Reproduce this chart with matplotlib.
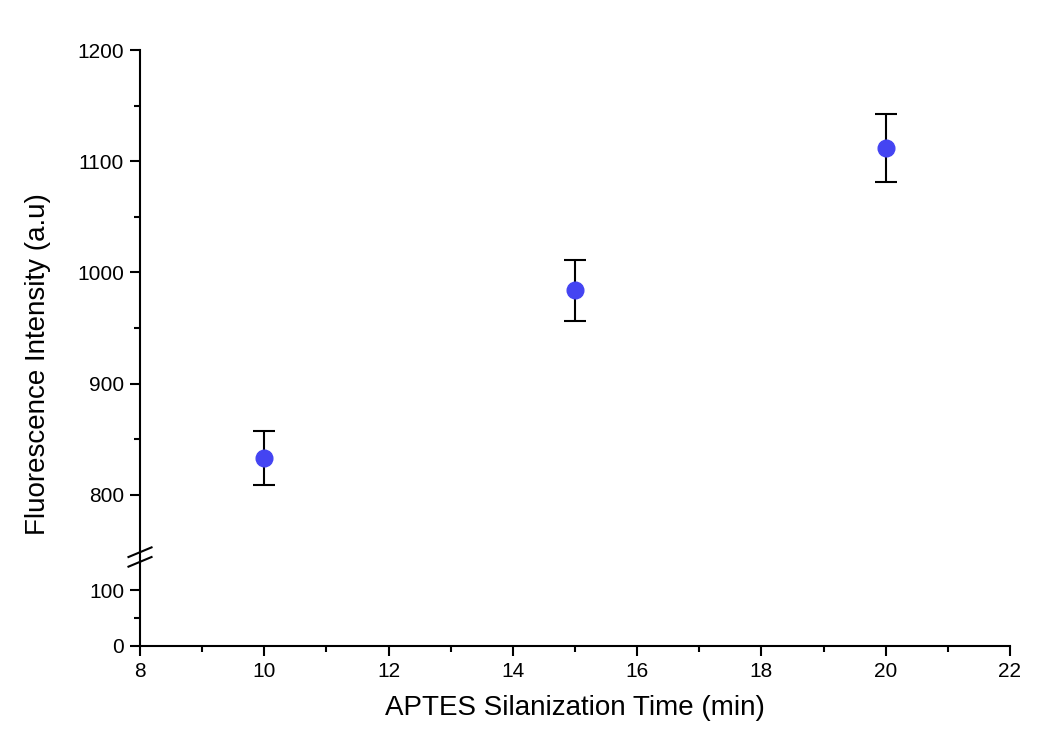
import numpy as np
import matplotlib.pyplot as plt

plt.rcParams["font.family"] = ["Liberation Sans", "DejaVu Sans"]

# data
time_min = [10, 15, 20]
intensity = [833, 984, 1112]
err = [24, 27.5, 30.5]

x_ticks = [8, 10, 12, 14, 16, 18, 20, 22]
upper_ticks = [800, 900, 1000, 1100, 1200]
lower_ticks = [0, 100]

fig = plt.figure(figsize=(10.48, 7.42), dpi=100)
left, right = 0.1336, 0.9637
bottom, brk, top = 0.1294, 0.2493, 0.9326
ax_lo = fig.add_axes([left, bottom, right - left, brk - bottom])
ax_hi = fig.add_axes([left, brk, right - left, top - brk], sharex=ax_lo)

# points only live in the upper part of the broken axis
ax_hi.errorbar(time_min, intensity, yerr=err, fmt="o", color="#4444f2",
               markersize=12, ecolor="black", elinewidth=1.5, capsize=8,
               capthick=1.5, zorder=3)

for ax in (ax_lo, ax_hi):
    ax.spines["top"].set_visible(False)
    ax.spines["right"].set_visible(False)
    ax.spines["left"].set_linewidth(1.5)
    ax.spines["bottom"].set_linewidth(1.5)
    ax.tick_params(which="major", direction="out", length=7.5, width=1.5,
                   labelsize=15, pad=4)
    ax.tick_params(which="minor", direction="out", length=4, width=1.5)

ax_hi.set_ylim(744, 1200)
ax_hi.set_yticks(upper_ticks)
ax_hi.set_yticks([850, 950, 1050, 1150], minor=True)
ax_hi.spines["bottom"].set_visible(False)
ax_hi.tick_params(axis="x", which="both", bottom=False, labelbottom=False)

ax_lo.set_ylim(0, 160)
ax_lo.set_yticks(lower_ticks)
ax_lo.set_yticks([50], minor=True)
ax_lo.set_xlim(8, 22)
ax_lo.set_xticks(x_ticks)
ax_lo.set_xticks(np.arange(9, 22, 2), minor=True)
ax_lo.set_xlabel("APTES Silanization Time (min)", fontsize=20, labelpad=10)

# break marks on the y axis
d = 0.011
for off in (-0.0065, 0.0065):
    fig.add_artist(plt.Line2D([left - d, left + d], [brk + off - 0.0065, brk + off + 0.0065],
                              color="black", lw=1.5, transform=fig.transFigure))

fig.text(0.036, 0.51, "Fluorescence Intensity (a.u)", rotation=90,
         fontsize=20, ha="center", va="center")

fig.savefig("out.png", dpi=100)
